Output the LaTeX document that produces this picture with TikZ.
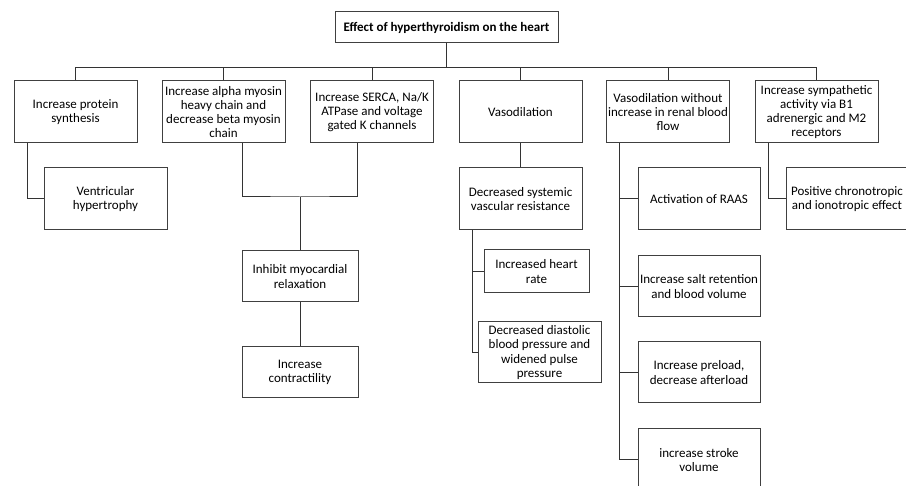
\documentclass[tikz,border=0pt]{standalone}
\usepackage{fontspec}
\setmainfont{Carlito}
\begin{document}
\begin{tikzpicture}[x=1pt, y=-1pt, line width=1pt,
	box/.style={draw=black!75, align=center, inner xsep=0pt, inner ysep=1pt, minimum width=#1, font=\fontsize{13pt}{14.3pt}\selectfont},
	box/.default=123pt,
	link/.style={draw=black!80}]
	\clip (0, 0) rectangle (906, 486);
	\node[box=223pt, minimum height=31pt, font=\fontsize{13pt}{14.3pt}\selectfont\bfseries] (title) at (446.5, 27.5) {Effect of hyperthyroidism on the heart};
	% first row
	\node[box, minimum height=62pt] (protein) at (75.5, 112) {Increase protein\\synthesis};
	\node[box, minimum height=62pt] (myosin) at (223.5, 112) {Increase alpha myosin\\heavy chain and\\decrease beta myosin\\chain};
	\node[box, minimum height=62pt] (serca) at (372, 112) {Increase SERCA, Na/K\\ATPase and voltage\\gated K channels};
	\node[box, minimum height=62pt] (vaso) at (520.5, 112) {Vasodilation};
	\node[box, minimum height=62pt] (renal) at (668, 112) {Vasodilation without\\increase in renal blood\\flow};
	\node[box, minimum height=62pt] (symp) at (816.5, 112) {Increase sympathetic\\activity via B1\\adrenergic and M2\\receptors};
	% second row and below
	\node[box, minimum height=62pt] (hyper) at (105.5, 199) {Ventricular\\hypertrophy};
	\node[box=116pt, minimum height=51pt] (relax) at (300, 276.5) {Inhibit myocardial\\relaxation};
	\node[box=116pt, minimum height=51pt] (contract) at (300, 372.5) {Increase\\contractility};
	\node[box, minimum height=62pt] (svr) at (520.5, 199) {Decreased systemic\\vascular resistance};
	\node[box=105pt, minimum height=43pt] (rate) at (536.5, 271.5) {Increased heart\\rate};
	\node[box, minimum height=61pt] (dbp) at (539.5, 352.5) {Decreased diastolic\\blood pressure and\\widened pulse\\pressure};
	\node[box=122pt, minimum height=62pt] (raas) at (699, 199) {Activation of RAAS};
	\node[box=122pt, minimum height=61pt] (salt) at (699, 286.5) {Increase salt retention\\and blood volume};
	\node[box=122pt, minimum height=61pt] (preload) at (699, 372.5) {Increase preload,\\decrease afterload};
	\node[box=122pt, minimum height=62pt] (stroke) at (699, 460) {increase stroke\\volume};
	\node[box=122pt, minimum height=62pt] (chrono) at (847, 199) {Positive chronotropic\\and ionotropic effect};

	\coordinate (bus) at (0, 68);
	\draw[link] (title.south) -- (title |- bus);
	\draw[link] (protein.north) -- (protein |- bus) -| (symp.north);
	\foreach \n in {myosin, serca, vaso, renal}
		\draw[link] (\n.north) -- (\n |- bus);

	\draw[link] ([xshift=-48.5pt]protein.south) |- (hyper.west);
	\coordinate (join) at (300, 197);
	\draw[link] ([xshift=18.5pt]myosin.south) |- (join) -| ([xshift=-15pt]serca.south);
	\draw[link] (join) -- (relax.north);
	\draw[link] (relax.south) -- (contract.north);

	\draw[link] (vaso.south) -- (svr.north);
	\draw[link] ([xshift=-48.5pt]svr.south) coordinate (svrdown) |- (dbp.west);
	\draw[link] (rate.west) -- (rate.west -| svrdown);

	\draw[link] ([xshift=-49pt]renal.south) coordinate (renaldown) |- (stroke.west);
	\foreach \n in {raas, salt, preload}
		\draw[link] (\n.west) -- (\n.west -| renaldown);

	\draw[link] ([xshift=-48.5pt]symp.south) |- (chrono.west);
\end{tikzpicture}
\end{document}
